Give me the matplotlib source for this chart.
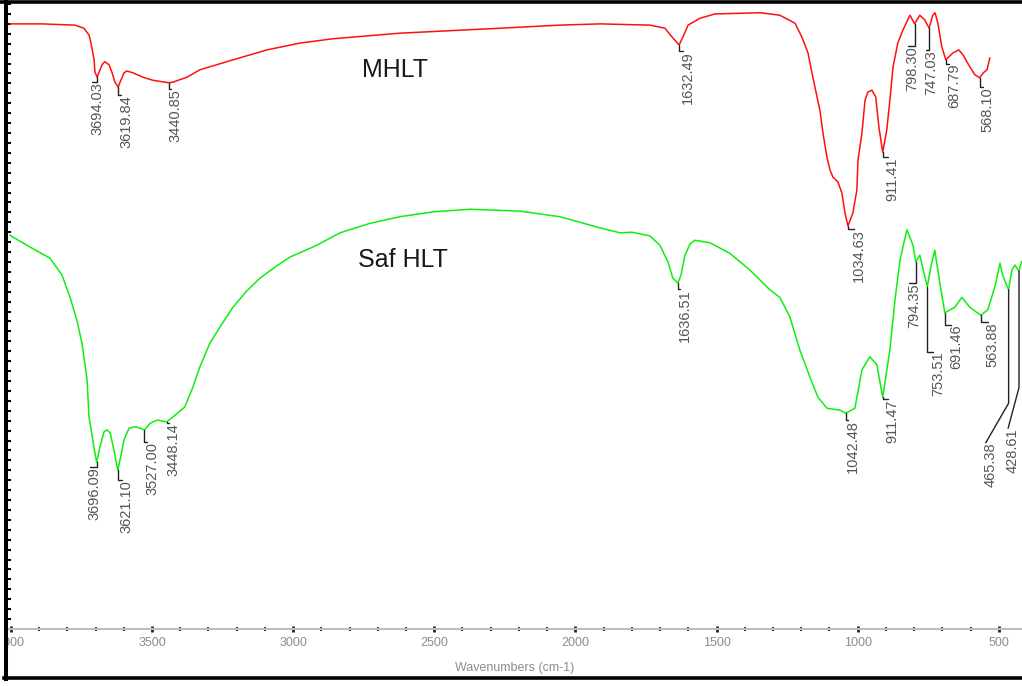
import matplotlib.pyplot as plt
import numpy as np
from matplotlib.lines import Line2D
from matplotlib.ticker import MultipleLocator
from matplotlib.transforms import Bbox, TransformedBbox, offset_copy

plt.rcParams['font.family'] = ['Liberation Sans', 'DejaVu Sans']

# ---- FTIR spectra: wavenumber (cm-1) and transmittance (%T) ----
mhlt_wn = [4003, 3890, 3773, 3741, 3723, 3716, 3705, 3702, 3694.03, 3684, 3677, 3667,
           3652, 3642, 3631, 3619.84, 3613, 3599, 3589, 3567, 3532, 3496, 3440.85, 3426,
           3376, 3330, 3213, 3093, 2976, 2859, 2622, 2267, 2055, 1913, 1736, 1683, 1658,
           1632.49, 1619, 1601, 1559, 1506, 1346, 1276, 1222, 1198, 1176, 1159, 1134, 1123,
           1109, 1098, 1088, 1070, 1056, 1045, 1034.63, 1017, 1003, 999, 985, 974, 964, 950,
           936, 925, 911.41, 897, 886, 875, 858, 840, 815, 798.30, 780, 762, 747.03, 734,
           726, 716, 702, 687.79, 663, 642, 627, 602, 585, 568.10, 555, 542, 532]
mhlt_t = [97.6, 97.6, 97.4, 96.9, 95.8, 94.5, 91.8, 89.8, 89.0, 90.2, 91.0, 91.5,
          91.0, 89.8, 88.2, 87.4, 88.2, 89.7, 90.0, 89.7, 89.0, 88.5, 88.1, 88.2,
          89.0, 90.2, 91.8, 93.4, 94.5, 95.2, 96.1, 96.9, 97.4, 97.6, 97.4, 96.9, 95.5,
          94.2, 95.5, 97.4, 98.5, 99.2, 99.4, 99.0, 97.7, 95.5, 92.9, 89.0, 83.7, 80.0,
          76.1, 74.0, 72.9, 72.1, 70.3, 67.1, 65.0, 67.1, 70.8, 75.6, 80.0, 85.3, 86.6, 86.9,
          85.8, 81.0, 76.9, 80.5, 85.3, 90.6, 94.5, 96.6, 99.0, 97.6, 99.0, 98.2, 96.9, 99.0,
          99.4, 97.7, 93.9, 91.8, 92.9, 93.4, 92.6, 90.6, 89.4, 88.9, 89.7, 90.2, 92.1]

saf_wn = [4003, 3932, 3861, 3819, 3790, 3766, 3748, 3730, 3723, 3702, 3696.09, 3684,
          3670, 3659, 3648, 3635, 3621.10, 3613, 3599, 3581, 3560, 3542, 3527.00, 3506,
          3481, 3448.14, 3426, 3384, 3355, 3330, 3295, 3255, 3213, 3165, 3117, 3060, 3011,
          2960, 2916, 2834, 2730, 2622, 2500, 2374, 2197, 2055, 1913, 1842, 1800, 1736, 1701,
          1672, 1655, 1636.51, 1626, 1612, 1594, 1577, 1524, 1453, 1382, 1311, 1276, 1240,
          1205, 1169, 1141, 1109, 1063, 1042.48, 1010, 985, 957, 932, 911.47, 886, 868, 850,
          826, 804, 794.35, 780, 762, 753.51, 741, 727, 709, 691.46, 656, 631, 603, 563.88,
          539, 514, 496, 486, 465.38, 454, 443, 428.61, 420, 416]
saf_t = [63.5, 61.6, 59.8, 57.1, 53.5, 49.8, 46.1, 40.2, 34.2, 28.4, 26.9, 29.4,
         31.8, 32.1, 31.6, 28.9, 25.6, 27.3, 30.5, 32.4, 32.6, 32.4, 32.1, 33.2,
         33.7, 33.4, 34.2, 35.8, 39.0, 42.3, 46.1, 49.0, 51.9, 54.5, 56.6, 58.5, 60.0,
         61.0, 61.9, 63.9, 65.4, 66.5, 67.3, 67.7, 67.4, 66.5, 64.7, 63.9, 64.0, 63.4, 61.9,
         59.2, 56.6, 55.8, 57.1, 60.3, 62.1, 62.7, 62.3, 60.6, 57.9, 54.7, 53.5, 50.3,
         45.0, 40.6, 37.4, 35.6, 35.3, 34.8, 35.6, 41.8, 43.9, 42.6, 37.4, 45.0, 53.1, 59.5,
         64.4, 61.9, 59.2, 60.3, 56.8, 55.2, 58.4, 61.1, 55.8, 51.0, 51.9, 53.5, 51.9, 50.6,
         51.5, 55.2, 59.0, 57.0, 54.7, 57.9, 58.7, 57.7, 59.2, 59.4]

# picked peaks
mhlt_peaks = [3694.03, 3619.84, 3440.85, 1632.49, 1034.63, 911.41, 798.30, 747.03, 687.79, 568.10]
saf_peaks = [3696.09, 3621.10, 3527.00, 3448.14, 1636.51, 1042.48, 911.47, 794.35,
             753.51, 691.46, 563.88, 465.38, 428.61]

# label placement: text offset in pixels (dx, dy) and leader angle at the text end
mhlt_place = [(0, -5, 180), (8, -8, 180), (7, -6, 180), (9, -6, 180), (11, -3, 180),
              (10, -5, 180), (-2, -22, 180), (2, -22, 180), (8, -4, 180), (8, -9, 180)]
saf_place = [(-2, -5, 180), (9, -10, 180), (8, -12, 180), (7, -1, 180), (7, -6, 180),
             (7, -7, 180), (10, -2, 180), (-2, -21, 180), (11, -65, 180), (11, -12, 180),
             (12, -7, 180), (-18, -153, 60), (-6, -157, 75)]

major_ticks = [4000, 3500, 3000, 2500, 2000, 1500, 1000, 500]

W, H = 1022, 686
fig = plt.figure(figsize=(W / 100, H / 100), dpi=100)
ax = fig.add_axes([8 / W, 57 / H, 1014 / W, 626 / H])

ax.plot(mhlt_wn, mhlt_t, color='#ff1010', lw=1.1)
ax.plot(saf_wn, saf_t, color='#10ee10', lw=1.1)
ax.set_xlim(4010, 418)
ax.set_ylim(0, 626 / 6.2)

for s in ['top', 'right', 'left']:
    ax.spines[s].set_visible(False)
ax.spines['bottom'].set_color('#bdbdbd')
ax.spines['bottom'].set_linewidth(1.5)

ax.set_xticks(major_ticks)
ax.set_xticks(np.arange(500, 4001, 100), minor=True)
ax.tick_params(axis='x', which='major', direction='inout', length=4, width=2,
               color='#222222', labelbottom=False)
ax.tick_params(axis='x', which='minor', direction='inout', length=3, width=1.5,
               color='#333333')
ax.yaxis.set_major_locator(MultipleLocator(1.6))
ax.tick_params(axis='y', direction='in', length=2, width=1.5, color='k', labelleft=False)

# x tick labels, clipped at the left frame
lab_tr = offset_copy(ax.get_xaxis_transform(), fig=fig, y=-8, units='dots')
clip = TransformedBbox(Bbox([[0, -1], [1, 1]]), ax.transAxes)
for v in major_ticks:
    t = ax.text(v, 0, str(v), transform=lab_tr, ha='center', va='top',
                fontsize=9, color='#8c8c8c')
    t.set_clip_on(True)
    t.set_clip_box(clip)

ax.text(0.5, -39 / 626, 'Wavenumbers (cm-1)', transform=ax.transAxes,
        ha='center', va='center', fontsize=9, color='#8c8c8c')


def label_peaks(peaks, place, wn, tr):
    x = np.asarray(wn)[::-1]
    y = np.asarray(tr)[::-1]
    for p, (dx, dy, ang) in zip(peaks, place):
        ax.annotate(f'{p:.2f}', xy=(p, np.interp(p, x, y)), xytext=(dx, dy),
                    textcoords='offset pixels', rotation=90, ha='center', va='top',
                    fontsize=10.5, color='#555555',
                    arrowprops=dict(arrowstyle='-', color='#222222', lw=1.0,
                                    shrinkA=0, shrinkB=0, patchA=None,
                                    relpos=(0.15, 1.0),
                                    connectionstyle=f'angle,angleA={ang},angleB=90,rad=0'))


label_peaks(mhlt_peaks, mhlt_place, mhlt_wn, mhlt_t)
label_peaks(saf_peaks, saf_place, saf_wn, saf_t)

ax.text(2756, 89.0, 'MHLT', fontsize=18, color='#1a1a1a', va='baseline')
ax.text(2770, 58.4, 'Saf HLT', fontsize=18, color='#1a1a1a', va='baseline')

# outer frame
fig.add_artist(Line2D([0, 1], [1 - 1.5 / H, 1 - 1.5 / H], transform=fig.transFigure,
                      color='k', lw=2.6))
fig.add_artist(Line2D([6 / W, 6 / W], [1, 1 - 679 / H], transform=fig.transFigure,
                      color='k', lw=2.9))
fig.add_artist(Line2D([4 / W, 1], [1 - 678 / H, 1 - 678 / H], transform=fig.transFigure,
                      color='k', lw=2.6))

fig.savefig('out.png', dpi=100)
